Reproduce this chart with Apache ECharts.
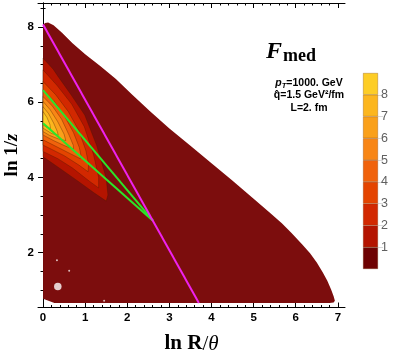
<!DOCTYPE html>
<html>
<head>
<meta charset="utf-8">
<script src="https://cdn.jsdelivr.net/npm/echarts@6/dist/echarts.min.js"></script>
<style>
html,body{margin:0;padding:0;background:#fff;}
#chart{width:399px;height:355px;}
</style>
</head>
<body>
<div id="chart"></div>
<script>
// ---------- data ----------
const xTickLabels = [0, 1, 2, 3, 4, 5, 6, 7];
const yTickLabels = [2, 4, 6, 8];
const colorbarLabels = [1, 2, 3, 4, 5, 6, 7, 8];
const levelColors = ['#6e0202', '#b41400', '#d22800', '#e44400', '#f0620c', '#f88616', '#faa01a', '#fcb61e', '#fdcd26'];
const regionColor = '#7c0d0d';

// outline of the filled (value < 1) domain
const domainOutline = [
  [0, 0.77], [0, 8.06], [0.05, 8.11], [0.12, 8.12], [0.25, 8.05], [0.45, 7.85], [0.7, 7.57],
  [1.0, 7.28], [1.35, 6.97], [1.73, 6.62], [2.1, 6.22], [2.54, 5.76], [3.0, 5.3], [3.5, 4.84],
  [4.0, 4.38], [4.48, 3.93], [5.0, 3.43], [5.4, 3.05], [5.67, 2.78], [5.9, 2.52], [6.15, 2.22],
  [6.34, 1.98], [6.5, 1.74], [6.64, 1.48], [6.75, 1.25], [6.84, 1.02], [6.9, 0.84], [6.93, 0.72],
  [6.9, 0.67], [6.8, 0.66], [0.27, 0.66]
];
// contour regions (value above level n)
const contour1 = [[0, 7.17], [0.24, 6.88], [0.36, 6.68], [0.67, 6.19], [0.99, 5.66], [1.27, 4.86], [1.5, 3.98], [1.54, 3.53], [1.5, 3.37], [1.2, 3.6], [0.83, 3.9], [0.4, 4.24], [0, 4.55]];
const contour2 = [[0, 6.86], [0.33, 6.45], [0.68, 5.95], [0.98, 5.35], [1.2, 4.6], [1.32, 4.0], [1.32, 3.72], [1.1, 3.9], [0.7, 4.25], [0.35, 4.5], [0, 4.69]];
const contour3 = [[0, 6.55], [0.3, 6.2], [0.6, 5.75], [0.85, 5.25], [1.02, 4.7], [1.08, 4.35], [1.07, 4.15], [0.85, 4.33], [0.5, 4.58], [0.2, 4.75], [0, 4.86]];
const contour4 = [[0, 6.33], [0.25, 6.05], [0.5, 5.65], [0.72, 5.2], [0.86, 4.8], [0.9, 4.58], [0.88, 4.5], [0.65, 4.63], [0.35, 4.8], [0, 5.0]];
const contour5 = [[0, 6.15], [0.22, 5.9], [0.44, 5.55], [0.62, 5.12], [0.72, 4.85], [0.72, 4.75], [0.5, 4.85], [0.25, 4.98], [0, 5.13]];
const contour6 = [[0, 6.02], [0.17, 5.8], [0.35, 5.48], [0.5, 5.15], [0.54, 4.98], [0.35, 5.03], [0.15, 5.12], [0, 5.22]];
const contour7 = [[0, 5.88], [0.13, 5.7], [0.25, 5.45], [0.34, 5.22], [0.36, 5.12], [0.2, 5.17], [0, 5.31]];
const contour8 = [[0, 5.75], [0.09, 5.6], [0.16, 5.42], [0.18, 5.3], [0.08, 5.34], [0, 5.4]];
const contours = [contour1, contour2, contour3, contour4, contour5, contour6, contour7, contour8];

const magentaLine = [[0, 8.07], [3.7, 0.66]];
const greenUpper = [[0, 6.32], [2.61, 2.85]];
const greenLower = [[0, 5.44], [2.61, 2.85]];
const whiteHole = [[0.35, 1.1]];
const whiteSpecks = [[0.33, 1.8], [1.45, 0.72], [0.62, 1.52]];

// ---------- chart ----------
const X_MIN = -0.12, X_MAX = 7.17, Y_MIN = 0.54, Y_MAX = 8.64;
const xMinor = [], yMinor = [];
for (let i = 0; i <= 36; i++) { const v = +(i * 0.2).toFixed(1); if (v % 1 !== 0 && v < X_MAX) xMinor.push(v); }
for (let i = 2; i <= 17; i++) { const v = i * 0.5; if (v % 2 !== 0 && v < Y_MAX) yMinor.push(v); }

const tickFont = {fontFamily: 'Liberation Sans', fontWeight: 'bold', fontSize: 11.5, color: '#000'};
const frameLine = {show: true, lineStyle: {color: '#000', width: 1}};

function xAx(pos, major, labels) {
  return {
    gridIndex: 0, type: 'value', min: X_MIN, max: X_MAX, position: pos,
    axisLine: major ? frameLine : {show: false},
    axisTick: {show: true, inside: true, length: major ? 5 : 2.5, lineStyle: {color: '#000', width: 1},
      customValues: major ? xTickLabels : xMinor},
    axisLabel: labels ? Object.assign({show: true, margin: 4, customValues: xTickLabels}, tickFont) : {show: false},
    splitLine: {show: false}
  };
}
function yAx(pos, major, labels) {
  return {
    gridIndex: 0, type: 'value', min: Y_MIN, max: Y_MAX, position: pos,
    axisLine: major ? frameLine : {show: false},
    axisTick: {show: true, inside: true, length: major ? 5 : 2.5, lineStyle: {color: '#000', width: 1},
      customValues: major ? yTickLabels : yMinor},
    axisLabel: labels ? Object.assign({show: true, margin: 4, customValues: yTickLabels}, tickFont) : {show: false},
    splitLine: {show: false}
  };
}

const xAxes = [xAx('bottom', true, true), xAx('bottom', false, false), xAx('top', true, false), xAx('top', false, false)];
xAxes[0].name = '{a|ln R}{c|/}{b|θ}';
xAxes[0].nameLocation = 'middle';
xAxes[0].nameGap = 26;
xAxes[0].nameTextStyle = {rich: {
  a: {fontFamily: 'Liberation Serif', fontWeight: 'bold', fontSize: 21, color: '#000'},
  c: {fontFamily: 'Liberation Serif', fontSize: 21, color: '#000'},
  b: {fontFamily: 'Liberation Serif', fontStyle: 'italic', fontSize: 21, color: '#000'}
}};
xAxes.push({gridIndex: 1, type: 'category', data: ['bar'], show: false});

const yAxes = [yAx('left', true, true), yAx('left', false, false), yAx('right', true, false), yAx('right', false, false)];
yAxes.push({
  gridIndex: 1, type: 'value', min: 0, max: 9, position: 'right',
  axisLine: {show: false},
  axisTick: {show: true, length: 5, customValues: colorbarLabels, lineStyle: {color: '#d8d8d8'}},
  axisLabel: {show: true, margin: 3, customValues: colorbarLabels, fontFamily: 'Liberation Sans', fontSize: 12.5, color: '#606060'},
  splitLine: {show: false}
});

function polygonSeries(pts, fill, stroke, z) {
  return {
    type: 'custom', xAxisIndex: 0, yAxisIndex: 0, z: z, silent: true, clip: true,
    data: pts,
    renderItem: function (params, api) {
      if (params.dataIndex !== 0) return;
      const points = pts.map(p => api.coord(p));
      return {type: 'polygon', shape: {points: points},
        style: {fill: fill, stroke: stroke || 'none', lineWidth: stroke ? 0.7 : 0}};
    }
  };
}

const series = [];
series.push(polygonSeries(domainOutline, regionColor, null, 1));
contours.forEach((c, i) => series.push(polygonSeries(c, levelColors[i + 1], 'rgba(70,25,0,0.5)', 2 + i)));
series.push({type: 'scatter', xAxisIndex: 0, yAxisIndex: 0, data: whiteHole, symbolSize: 7.5,
  itemStyle: {color: '#fff'}, z: 12, silent: true});
series.push({type: 'scatter', xAxisIndex: 0, yAxisIndex: 0, data: whiteSpecks, symbolSize: 2,
  itemStyle: {color: '#f4e8e8'}, z: 12, silent: true});
[[greenUpper, '#2ae62a'], [greenLower, '#2ae62a'], [magentaLine, '#ee22ee']].forEach(([d, col], k) => {
  series.push({type: 'line', xAxisIndex: 0, yAxisIndex: 0, data: d, symbol: 'none', silent: true,
    lineStyle: {color: col, width: 2}, z: 20 + k});
});
// colour bar
levelColors.forEach((c) => {
  series.push({type: 'bar', xAxisIndex: 4, yAxisIndex: 4, stack: 'cb', data: [1], barWidth: '100%',
    itemStyle: {color: c, borderColor: 'rgba(110,50,0,0.55)', borderWidth: 0.5}, silent: true});
});

const chart = echarts.init(document.getElementById('chart'), null, {renderer: 'canvas'});
chart.setOption({
  animation: false,
  backgroundColor: '#fff',
  grid: [
    {left: 38, top: 3, width: 307, height: 304.5, containLabel: false, outerBoundsMode: 'none'},
    {left: 363, top: 73, width: 15, height: 196, containLabel: false, outerBoundsMode: 'none'}
  ],
  xAxis: xAxes,
  yAxis: yAxes,
  series: series,
  graphic: [
    {type: 'text', x: 12, y: 155, rotation: Math.PI / 2, style: {
      text: '{a|ln 1/}{b|z}', align: 'center', verticalAlign: 'middle',
      rich: {
        a: {fontFamily: 'Liberation Serif', fontWeight: 'bold', fontSize: 19, fill: '#000'},
        b: {fontFamily: 'Liberation Serif', fontWeight: 'bold', fontStyle: 'italic', fontSize: 19, fill: '#000'}
      }}},
    {type: 'text', left: 266, top: 40, style: {text: 'F', font: 'italic bold 24px "Liberation Serif"', fill: '#000'}},
    {type: 'text', left: 283, top: 47, style: {text: 'med', font: 'bold 18px "Liberation Serif"', fill: '#000'}},
    {type: 'text', x: 309, y: 77, style: {
      text: '{i|p}{s|T}{n|=1000. GeV}', align: 'center',
      rich: {
        i: {fontFamily: 'Liberation Sans', fontStyle: 'italic', fontWeight: 'bold', fontSize: 10.5, fill: '#000'},
        s: {fontFamily: 'Liberation Sans', fontStyle: 'italic', fontWeight: 'bold', fontSize: 7.5, fill: '#000', padding: [5, 0, 0, 0]},
        n: {fontFamily: 'Liberation Sans', fontWeight: 'bold', fontSize: 10.5, fill: '#000'}
      }}},
    {type: 'text', x: 309, y: 90, style: {text: 'q\u0302=1.5 GeV\u00b2/fm', align: 'center', font: 'bold 10.5px "Liberation Sans"', fill: '#000'}},
    {type: 'text', x: 309, y: 103, style: {text: 'L=2. fm', align: 'center', font: 'bold 10.5px "Liberation Sans"', fill: '#000'}}
  ]
});
</script>
</body>
</html>
